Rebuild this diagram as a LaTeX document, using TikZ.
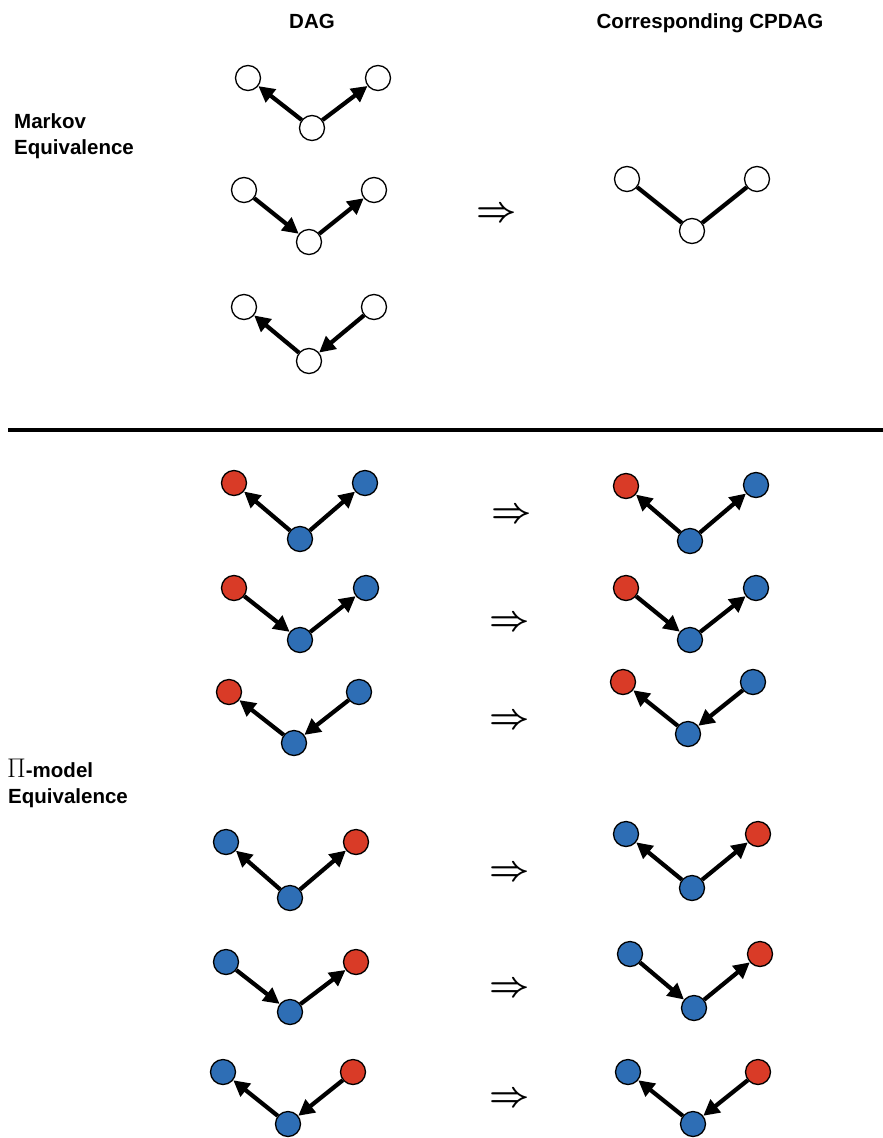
\documentclass[tikz,border=0pt]{standalone}
\usepackage{fix-cm}
\usepackage{fontspec}
\setmainfont{Liberation Sans}
\usetikzlibrary{arrows.meta}
\definecolor{nred}{HTML}{D93B27}
\definecolor{nblue}{HTML}{2E6EB5}
\tikzset{
  vert/.style={circle,draw=black,line width=1.3pt,minimum size=25pt,inner sep=0pt},
  wv/.style={vert,fill=white},
  rv/.style={vert,fill=nred},
  bv/.style={vert,fill=nblue},
  dir/.style={line width=4.2pt,-{Triangle[length=16pt,width=16pt]}},
  und/.style={line width=4.2pt},
  hdr/.style={font=\fontsize{20.5}{24}\selectfont\bfseries,anchor=base},
  lbl/.style={font=\fontsize{20.5}{24}\selectfont\bfseries,anchor=base west,inner sep=0pt},
  impl/.style={font=\fontsize{35}{35}\selectfont\boldmath,inner sep=0pt}
}
\begin{document}
\begin{tikzpicture}[x=1pt,y=-1pt]
\useasboundingbox (0,0) rectangle (883,1138);
% headers
\node[hdr] (hdag) at (312,28) {DAG};
\node[hdr] (hcp) at (710,28) {Corresponding CPDAG};
\node[lbl] (m1) at (14,128) {Markov};
\node[lbl] (m2) at (14,154) {Equivalence};
\node[lbl] (p1) at (7,777) {{\fontsize{27}{27}\selectfont$\Pi$}-model};
\node[lbl] (p2) at (8,803) {Equivalence};
% separator
\coordinate (sepL) at (8,430);
\coordinate (sepR) at (883,430);
\draw[line width=3.6pt] (sepL) -- (sepR);

% ---------- top: DAGs ----------
\node[wv] (a1L) at (248,78) {};
\node[wv] (a1R) at (378,78) {};
\node[wv] (a1B) at (312,128) {};
\draw[dir] (a1B) -- (a1L);
\draw[dir] (a1B) -- (a1R);

\node[wv] (a2L) at (244,190) {};
\node[wv] (a2R) at (374,190) {};
\node[wv] (a2B) at (309,242) {};
\draw[dir] (a2L) -- (a2B);
\draw[dir] (a2B) -- (a2R);

\node[wv] (a3L) at (244,307) {};
\node[wv] (a3R) at (374,307) {};
\node[wv] (a3B) at (309,361) {};
\draw[dir] (a3B) -- (a3L);
\draw[dir] (a3R) -- (a3B);

\node[impl] (t0) at (497,215) {$\Rightarrow$};

\node[wv] (c0L) at (627,179) {};
\node[wv] (c0R) at (757,179) {};
\node[wv] (c0B) at (692,231) {};
\draw[und] (c0L) -- (c0B);
\draw[und] (c0B) -- (c0R);

% ---------- bottom: Pi-model ----------
% row 1
\node[rv] (d1L) at (234,483) {};
\node[bv] (d1R) at (365,483) {};
\node[bv] (d1B) at (300,539) {};
\draw[dir] (d1B) -- (d1L);
\draw[dir] (d1B) -- (d1R);
\node[impl] (t1) at (512,516) {$\Rightarrow$};
\node[rv] (e1L) at (626,486) {};
\node[bv] (e1R) at (756,485) {};
\node[bv] (e1B) at (690,541) {};
\draw[dir] (e1B) -- (e1L);
\draw[dir] (e1B) -- (e1R);

% row 2
\node[rv] (d2L) at (234,588) {};
\node[bv] (d2R) at (366,588) {};
\node[bv] (d2B) at (300,640) {};
\draw[dir] (d2L) -- (d2B);
\draw[dir] (d2B) -- (d2R);
\node[impl] (t2) at (510,624) {$\Rightarrow$};
\node[rv] (e2L) at (626,588) {};
\node[bv] (e2R) at (756,588) {};
\node[bv] (e2B) at (690,640) {};
\draw[dir] (e2L) -- (e2B);
\draw[dir] (e2B) -- (e2R);

% row 3
\node[rv] (d3L) at (229,692) {};
\node[bv] (d3R) at (359,692) {};
\node[bv] (d3B) at (294,743) {};
\draw[dir] (d3B) -- (d3L);
\draw[dir] (d3R) -- (d3B);
\node[impl] (t3) at (510,722) {$\Rightarrow$};
\node[rv] (e3L) at (623,682) {};
\node[bv] (e3R) at (753,682) {};
\node[bv] (e3B) at (688,734) {};
\draw[dir] (e3B) -- (e3L);
\draw[dir] (e3R) -- (e3B);

% row 4
\node[bv] (d4L) at (226,842) {};
\node[rv] (d4R) at (356,842) {};
\node[bv] (d4B) at (290,898) {};
\draw[dir] (d4B) -- (d4L);
\draw[dir] (d4B) -- (d4R);
\node[impl] (t4) at (510,874) {$\Rightarrow$};
\node[bv] (e4L) at (626,834) {};
\node[rv] (e4R) at (758,834) {};
\node[bv] (e4B) at (692,888) {};
\draw[dir] (e4B) -- (e4L);
\draw[dir] (e4B) -- (e4R);

% row 5
\node[bv] (d5L) at (226,962) {};
\node[rv] (d5R) at (356,962) {};
\node[bv] (d5B) at (290,1012) {};
\draw[dir] (d5L) -- (d5B);
\draw[dir] (d5B) -- (d5R);
\node[impl] (t5) at (510,990) {$\Rightarrow$};
\node[bv] (e5L) at (630,954) {};
\node[rv] (e5R) at (760,954) {};
\node[bv] (e5B) at (694,1008) {};
\draw[dir] (e5L) -- (e5B);
\draw[dir] (e5B) -- (e5R);

% row 6
\node[bv] (d6L) at (223,1072) {};
\node[rv] (d6R) at (353,1072) {};
\node[bv] (d6B) at (288,1124) {};
\draw[dir] (d6B) -- (d6L);
\draw[dir] (d6R) -- (d6B);
\node[impl] (t6) at (510,1100) {$\Rightarrow$};
\node[bv] (e6L) at (628,1072) {};
\node[rv] (e6R) at (758,1072) {};
\node[bv] (e6B) at (693,1124) {};
\draw[dir] (e6B) -- (e6L);
\draw[dir] (e6R) -- (e6B);
\end{tikzpicture}
\end{document}
